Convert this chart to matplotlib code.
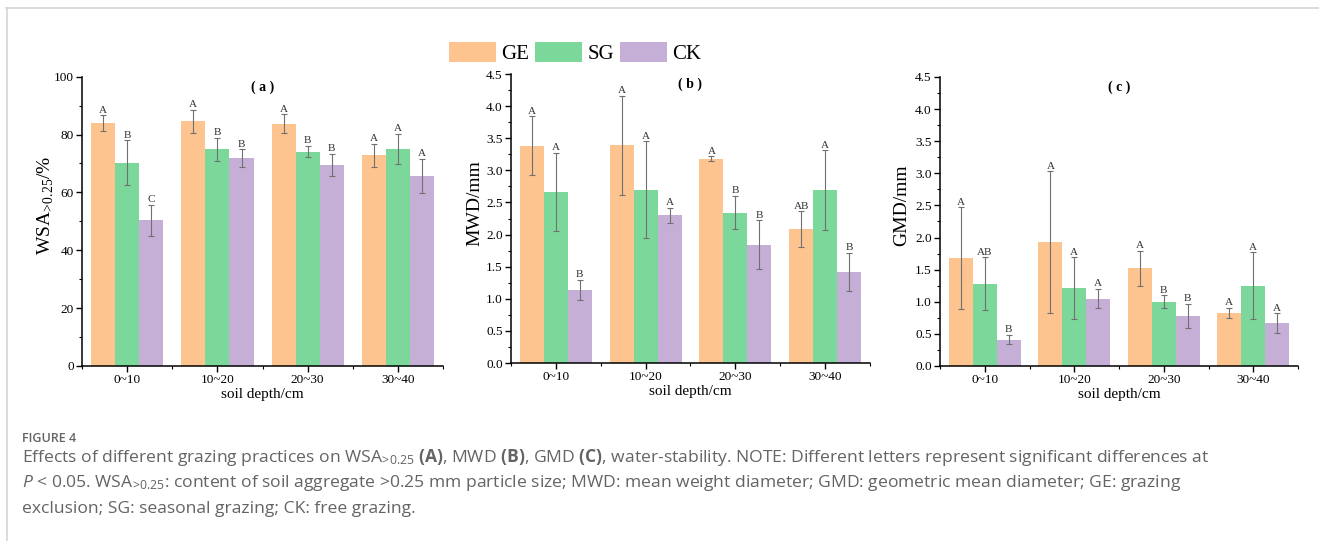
import numpy as np
import matplotlib
matplotlib.use('Agg')
import matplotlib.pyplot as plt
from matplotlib.lines import Line2D
from matplotlib.ticker import MultipleLocator, FixedLocator

# mathtext: keep caption fonts for bold/italic pieces, \mathdefault follows text font
plt.rcParams['mathtext.fontset'] = 'custom'
plt.rcParams['mathtext.rm'] = 'Open Sans'
plt.rcParams['mathtext.it'] = 'Open Sans:italic'
plt.rcParams['mathtext.bf'] = 'Open Sans:bold'

SERIF = ['Liberation Serif', 'Noto Sans CJK SC']
CAPTION_FONT = 'Open Sans'

depths = ['0~10', '10~20', '20~30', '30~40']
groups = ['GE', 'SG', 'CK']
colors = ['#FDC48F', '#7BD89A', '#C5AFD7']

# (a) WSA>0.25 (%)  rows: GE, SG, CK
wsa_mean = [[83.9, 84.6, 83.8, 72.8],
            [70.2, 74.9, 74.1, 75.0],
            [50.3, 71.9, 69.6, 65.6]]
wsa_err = [[2.7, 4.0, 3.2, 4.1],
           [7.8, 4.0, 2.0, 5.2],
           [5.5, 3.0, 3.8, 5.9]]
wsa_letters = [['A', 'A', 'A', 'A'],
               ['B', 'B', 'B', 'A'],
               ['C', 'B', 'B', 'A']]

# (b) MWD (mm)
mwd_mean = [[3.38, 3.39, 3.18, 2.08],
            [2.66, 2.70, 2.34, 2.69],
            [1.14, 2.30, 1.84, 1.42]]
mwd_err = [[0.46, 0.77, 0.04, 0.28],
           [0.61, 0.75, 0.26, 0.62],
           [0.16, 0.12, 0.38, 0.30]]
mwd_letters = [['A', 'A', 'A', 'AB'],
               ['A', 'A', 'B', 'A'],
               ['B', 'A', 'B', 'B']]

# (c) GMD (mm)
gmd_mean = [[1.68, 1.93, 1.52, 0.82],
            [1.28, 1.21, 1.00, 1.25],
            [0.41, 1.05, 0.78, 0.67]]
gmd_err = [[0.79, 1.10, 0.27, 0.08],
           [0.41, 0.48, 0.10, 0.52],
           [0.07, 0.15, 0.19, 0.15]]
gmd_letters = [['A', 'A', 'A', 'A'],
               ['AB', 'A', 'B', 'A'],
               ['B', 'A', 'B', 'A']]


def draw_panel(ax, means, errs, letters, ymax, major, ylabel, label_x, title):
    x = np.arange(len(depths))
    width = 0.267
    for i, g in enumerate(groups):
        pos = x + (i - 1) * width
        ax.bar(pos, means[i], width, color=colors[i], label=g, zorder=2)
        ax.errorbar(pos, means[i], yerr=errs[i], fmt='none', ecolor='#707070',
                    elinewidth=0.8, capsize=2.5, capthick=0.8, zorder=3)
        for xp, m, e, t in zip(pos, means[i], errs[i], letters[i]):
            ax.annotate(t, (xp, m + e), xytext=(0, 0.5), textcoords='offset points',
                        ha='center', va='bottom', fontsize=8, family=SERIF,
                        color='#333333')

    ax.set_xlim(-0.5, len(depths) - 0.5)
    ax.set_ylim(0, ymax)
    ax.set_xticks(x)
    ax.set_xticklabels(depths, family=SERIF, fontsize=9.5)
    ax.xaxis.set_minor_locator(FixedLocator(np.arange(-0.5, len(depths), 1.0)))
    ax.yaxis.set_major_locator(MultipleLocator(major))
    ax.yaxis.set_minor_locator(MultipleLocator(major / 2))
    if major < 1:
        ax.yaxis.set_major_formatter(plt.FormatStrFormatter('%.1f'))
    for lab in ax.get_yticklabels():
        lab.set_family(SERIF)
        lab.set_fontsize(9.5)

    ax.tick_params(which='major', direction='out', length=4, width=1, pad=2)
    ax.tick_params(which='minor', direction='out', length=2.5, width=0.8)
    for side in ('top', 'right'):
        ax.spines[side].set_visible(False)
    for side in ('left', 'bottom'):
        ax.spines[side].set_linewidth(1.1)

    ax.set_xlabel('soil depth/cm', family=SERIF, fontsize=11, labelpad=1)
    ax.set_ylabel(ylabel, family=SERIF, fontsize=14)
    ax.yaxis.set_label_coords(label_x, 0.555)
    ax.text(0.5, 0.965, title, transform=ax.transAxes, ha='center', va='center',
            family=SERIF, fontsize=10, fontweight='bold')


fig = plt.figure(figsize=(13.19, 5.41), dpi=100)
fig.patch.set_facecolor('white')

ax_a = fig.add_axes([0.0622, 0.3235, 0.2737, 0.5347])
ax_b = fig.add_axes([0.3874, 0.3290, 0.2722, 0.5342])
ax_c = fig.add_axes([0.7127, 0.3235, 0.2714, 0.5342])

draw_panel(ax_a, wsa_mean, wsa_err, wsa_letters, 100, 20,
           r'WSA$_{\mathdefault{\!>\!0.25}}$/%', -0.075, '( a )')
draw_panel(ax_b, mwd_mean, mwd_err, mwd_letters, 4.5, 0.5, 'MWD/mm', -0.078, '( b )')
draw_panel(ax_c, gmd_mean, gmd_err, gmd_letters, 4.5, 0.5, 'GMD/mm', -0.084, '( c )')

handles, labels = ax_a.get_legend_handles_labels()
bar_handles = [h for h in handles if hasattr(h, 'patches')]
fig.legend(bar_handles, groups, loc='center', bbox_to_anchor=(0.436, 0.902),
           ncol=3, frameon=False, prop=dict(family=SERIF, size=15),
           handlelength=2.25, handleheight=1.1, handletextpad=0.25,
           columnspacing=0.3, borderpad=0)

# caption
cap_color = '#646464'
fig.text(22 / 1319, 1 - 442 / 541, 'FIGURE 4', fontsize=9, color=cap_color,
         family=CAPTION_FONT, fontweight='semibold', va='baseline')
caption_lines = [
    r'Effects of different grazing practices on WSA$_{\mathdefault{\!>\!0.25}}$ '
    r'$\mathbf{(A)}$, MWD $\mathbf{(B)}$, GMD $\mathbf{(C)}$, water-stability. '
    r'NOTE: Different letters represent significant differences at',
    r'$\mathit{P}$ < 0.05. WSA$_{\mathdefault{\!>\!0.25}}$: content of soil aggregate >0.25 mm '
    r'particle size; MWD: mean weight diameter; GMD: geometric mean diameter; GE: grazing',
    'exclusion; SG: seasonal grazing; CK: free grazing.',
]
for k, line in enumerate(caption_lines):
    fig.text(22 / 1319, 1 - (462 + 25.3 * k) / 541, line, fontsize=12.6,
             color=cap_color, family=CAPTION_FONT, va='baseline')

# frame border (top and left)
border = dict(color='#d9d9d9', lw=1.3, transform=fig.transFigure)
fig.add_artist(Line2D([6 / 1319, 1], [1 - 7.5 / 541, 1 - 7.5 / 541], **border))
fig.add_artist(Line2D([6.5 / 1319, 6.5 / 1319], [0, 1 - 7.5 / 541], **border))

fig.savefig('out.png', dpi=100)
